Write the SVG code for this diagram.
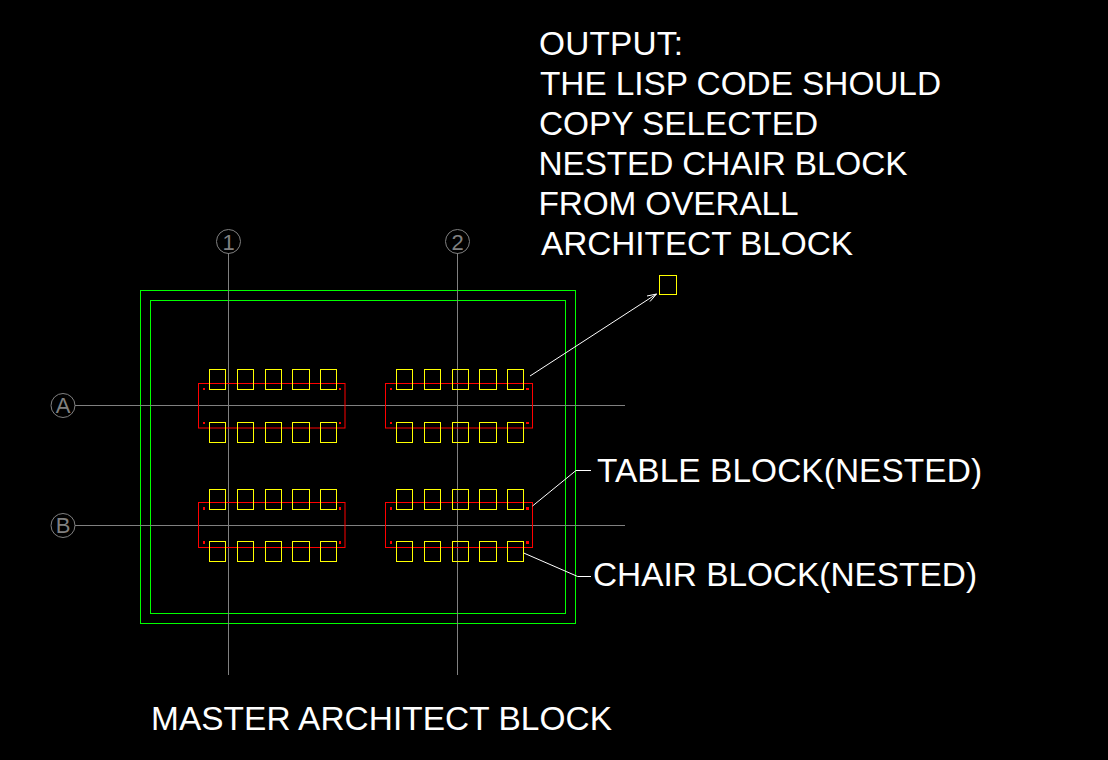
<svg xmlns="http://www.w3.org/2000/svg" width="1108" height="760" viewBox="0 0 1108 760">
<style>
.t{font-family:"Liberation Sans",Arial,sans-serif;font-size:33.4px;fill:#fff}
.g{font-family:"Liberation Sans",Arial,sans-serif;font-size:22px;fill:#808080;text-anchor:middle}
.grid{stroke:#808080;stroke-width:1;fill:none}
.c rect{fill:none;stroke:#ffff00;stroke-width:1}
.tb rect.o{fill:none;stroke:#ff0000;stroke-width:1}
.tb rect.d{fill:#ff0000;stroke:none}
.gr{fill:none;stroke:#00ff00;stroke-width:1}
.l{fill:none;stroke:#fff;stroke-width:1}
</style>
<defs>
<g id="chairs" class="c">
<rect x="0" y="0" width="16" height="20"/><rect x="28" y="0" width="16" height="20"/><rect x="56" y="0" width="16" height="20"/><rect x="83" y="0" width="17" height="20"/><rect x="111" y="0" width="16" height="20"/>
</g>
</defs>
<rect width="1108" height="760" fill="#000"/>
<g id="boundary-outer"><rect class="gr" x="140.500" y="290.500" width="435" height="333"/></g>
<g id="boundary-inner"><rect class="gr" x="150.500" y="300.500" width="415" height="313"/></g>
<g id="grid-lines">
<line class="grid" x1="228.500" y1="253" x2="228.500" y2="675"/>
<line class="grid" x1="457.500" y1="253" x2="457.500" y2="675"/>
<line class="grid" x1="75" y1="405.500" x2="625" y2="405.500"/>
<line class="grid" x1="75" y1="525.500" x2="625" y2="525.500"/>
</g>
<g id="grid-1"><circle class="grid" cx="228.500" cy="241.500" r="12"/><text class="g" x="228.500" y="249.500">1</text></g>
<g id="grid-2"><circle class="grid" cx="457.500" cy="241.500" r="12"/><text class="g" x="457.500" y="249.500">2</text></g>
<g id="grid-A"><circle class="grid" cx="63" cy="405.500" r="12"/><text class="g" x="63" y="413">A</text></g>
<g id="grid-B"><circle class="grid" cx="63" cy="525.500" r="12"/><text class="g" x="63" y="533">B</text></g>
<g id="table-1" class="tb">
<rect class="o" x="198.500" y="383.500" width="146.500" height="44.500"/>
<rect class="d" x="203" y="388" width="2" height="2"/><rect class="d" x="339" y="388" width="2" height="2"/><rect class="d" x="203" y="422" width="2" height="2"/><rect class="d" x="339" y="422" width="2" height="2"/>
<use href="#chairs" x="209.500" y="369.500"/><use href="#chairs" x="209.500" y="422.500"/>
</g>
<g id="table-2" class="tb">
<rect class="o" x="385.500" y="383.500" width="147" height="44.500"/>
<rect class="d" x="390" y="388" width="2" height="2"/><rect class="d" x="526" y="388" width="3" height="2"/><rect class="d" x="390" y="422" width="2" height="2"/><rect class="d" x="526" y="422" width="3" height="2"/>
<use href="#chairs" x="396.500" y="369.500"/><use href="#chairs" x="396.500" y="422.500"/>
</g>
<g id="table-3" class="tb">
<rect class="o" x="198.500" y="502.500" width="146.500" height="45"/>
<rect class="d" x="203" y="507" width="2" height="3"/><rect class="d" x="339" y="507" width="2" height="3"/><rect class="d" x="203" y="541" width="2" height="3"/><rect class="d" x="339" y="541" width="2" height="3"/>
<use href="#chairs" x="209.500" y="489.500"/><use href="#chairs" x="209.500" y="541.500"/>
</g>
<g id="table-4" class="tb">
<rect class="o" x="385.500" y="502.500" width="147" height="45"/>
<rect class="d" x="390" y="507" width="2" height="3"/><rect class="d" x="526" y="507" width="3" height="3"/><rect class="d" x="390" y="541" width="2" height="3"/><rect class="d" x="526" y="541" width="3" height="3"/>
<use href="#chairs" x="396.500" y="489.500"/><use href="#chairs" x="396.500" y="541.500"/>
</g>
<g id="output-chair" class="c"><rect x="659.500" y="275.500" width="17" height="19"/></g>
<g id="connectors">
<path class="l" d="M530 376L656.500 294M647 296L656.500 294L650 301.500"/>
<path class="l" d="M532.500 506L576 470.500H591"/>
<path class="l" d="M523.700 553L577.700 576.500H591"/>
</g>
<g id="labels">
<text class="t" x="539" y="55" textLength="144">OUTPUT:</text>
<text class="t" x="540" y="95" textLength="401">THE LISP CODE SHOULD</text>
<text class="t" x="539" y="135" textLength="279">COPY SELECTED</text>
<text class="t" x="538.500" y="175" textLength="369">NESTED CHAIR BLOCK</text>
<text class="t" x="538.500" y="215" textLength="260">FROM OVERALL</text>
<text class="t" x="541" y="255" textLength="312">ARCHITECT BLOCK</text>
<text class="t" x="597" y="482" textLength="385">TABLE BLOCK(NESTED)</text>
<text class="t" x="593" y="586" textLength="384">CHAIR BLOCK(NESTED)</text>
<text class="t" x="151" y="730" textLength="461">MASTER ARCHITECT BLOCK</text>
</g>
</svg>
